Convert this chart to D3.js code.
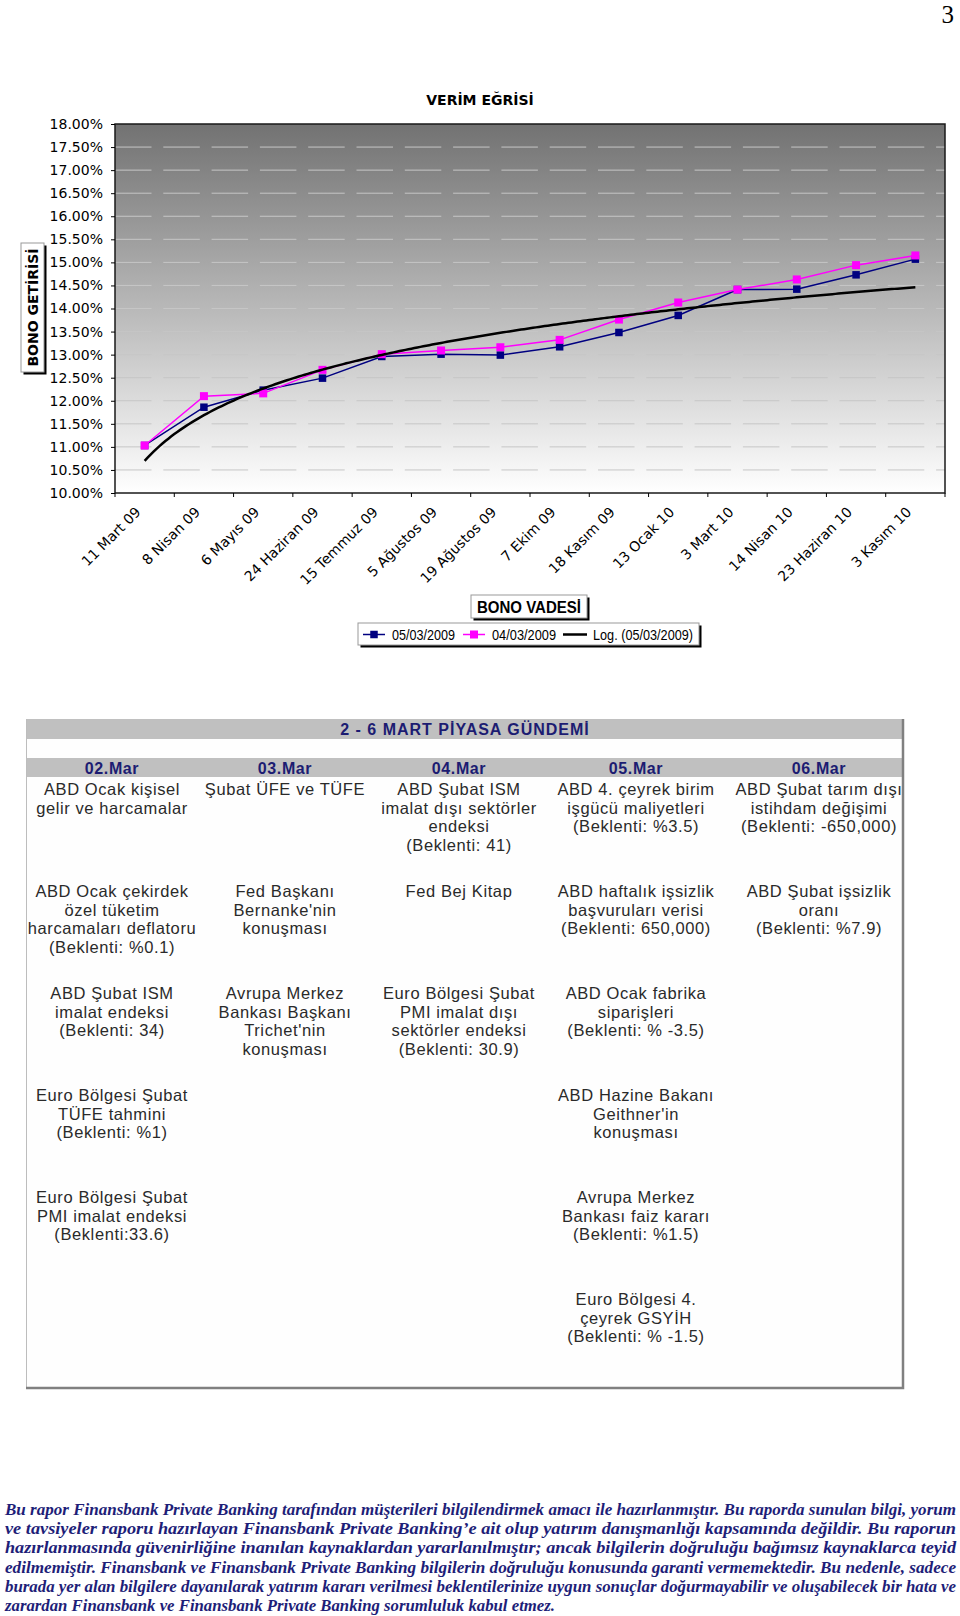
<!DOCTYPE html>
<html>
<head>
<meta charset="utf-8">
<script src="https://cdn.jsdelivr.net/npm/d3@7"></script>
<style>
  body { margin: 0; background: #fff; }
  svg { display: block; }
</style>
</head>
<body>
<div id="page"></div>
<script>
// bond maturities (x categories)
const maturities = ['11 Mart 09', '8 Nisan 09', '6 Mayıs 09', '24 Haziran 09', '15 Temmuz 09',
  '5 Ağustos 09', '19 Ağustos 09', '7 Ekim 09', '18 Kasım 09', '13 Ocak 10',
  '3 Mart 10', '14 Nisan 10', '23 Haziran 10', '3 Kasım 10'];

// yields in %
const yield0503 = [11.03, 11.86, 12.23, 12.49, 12.96, 13.01, 12.99, 13.17, 13.48, 13.85, 14.41, 14.42, 14.73, 15.07];
const yield0403 = [11.03, 12.10, 12.16, 12.67, 13.01, 13.09, 13.16, 13.32, 13.76, 14.13, 14.41, 14.63, 14.94, 15.15];

const yTicks = [10, 10.5, 11, 11.5, 12, 12.5, 13, 13.5, 14, 14.5, 15, 15.5, 16, 16.5, 17, 17.5, 18];
const legendLabels = ['05/03/2009', '04/03/2009', 'Log. (05/03/2009)'];

// weekly agenda
const agendaTitle = '2 - 6 MART PİYASA GÜNDEMİ';
const agendaDays = ['02.Mar', '03.Mar', '04.Mar', '05.Mar', '06.Mar'];
const agendaRows = [
  [['ABD Ocak kişisel', 'gelir ve harcamalar'], ['Şubat ÜFE ve TÜFE'], ['ABD Şubat ISM', 'imalat dışı sektörler', 'endeksi', '(Beklenti: 41)'], ['ABD 4. çeyrek birim', 'işgücü maliyetleri', '(Beklenti: %3.5)'], ['ABD Şubat tarım dışı', 'istihdam değişimi', '(Beklenti: -650,000)']],
  [['ABD Ocak çekirdek', 'özel tüketim', 'harcamaları deflatoru', '(Beklenti: %0.1)'], ['Fed Başkanı', "Bernanke'nin", 'konuşması'], ['Fed Bej Kitap'], ['ABD haftalık işsizlik', 'başvuruları verisi', '(Beklenti: 650,000)'], ['ABD Şubat işsizlik', 'oranı', '(Beklenti: %7.9)']],
  [['ABD Şubat ISM', 'imalat endeksi', '(Beklenti: 34)'], ['Avrupa Merkez', 'Bankası Başkanı', "Trichet'nin", 'konuşması'], ['Euro Bölgesi Şubat', 'PMI imalat dışı', 'sektörler endeksi', '(Beklenti: 30.9)'], ['ABD Ocak fabrika', 'siparişleri', '(Beklenti: % -3.5)'], []],
  [['Euro Bölgesi Şubat', 'TÜFE tahmini', '(Beklenti: %1)'], [], [], ['ABD Hazine Bakanı', "Geithner'in", 'konuşması'], []],
  [['Euro Bölgesi Şubat', 'PMI imalat endeksi', '(Beklenti:33.6)'], [], [], ['Avrupa Merkez', 'Bankası faiz kararı', '(Beklenti: %1.5)'], []],
  [[], [], [], ['Euro Bölgesi 4.', 'çeyrek GSYİH', '(Beklenti: % -1.5)'], []]
];

const disclaimerLines = [
  'Bu rapor Finansbank Private Banking tarafından müşterileri bilgilendirmek amacı ile hazırlanmıştır. Bu raporda sunulan bilgi, yorum',
  've tavsiyeler raporu hazırlayan Finansbank Private Banking’e ait olup yatırım danışmanlığı kapsamında değildir. Bu raporun',
  'hazırlanmasında güvenirliğine inanılan kaynaklardan yararlanılmıştır; ancak bilgilerin doğruluğu bağımsız kaynaklarca teyid',
  'edilmemiştir. Finansbank ve Finansbank Private Banking bilgilerin doğruluğu konusunda garanti vermemektedir. Bu nedenle, sadece',
  'burada yer alan bilgilere dayanılarak yatırım kararı verilmesi beklentilerinize uygun sonuçlar doğurmayabilir ve oluşabilecek bir hata ve',
  'zarardan Finansbank ve Finansbank Private Banking sorumluluk kabul etmez.'
];

const W = 960, H = 1616;
const verdana = 'DejaVu Sans, Verdana, sans-serif';
const arial = 'Liberation Sans, Arial, sans-serif';

const svg = d3.select('#page').append('svg')
  .attr('width', W).attr('height', H)
  .style('font-family', verdana);

// page number
svg.append('text').attr('x', 954).attr('y', 23).attr('text-anchor', 'end')
  .style('font-family', 'Liberation Serif, Times New Roman, serif').style('font-size', '25px')
  .text('3');

// ---------- yield curve ----------
const plot = { left: 115, right: 945, top: 124, bottom: 493 };
const x = d3.scaleBand().domain(maturities).range([plot.left, plot.right]);
const y = d3.scaleLinear().domain([10, 18]).range([plot.bottom, plot.top]);
const cx = d => x(d) + x.bandwidth() / 2;

const grad = svg.append('defs').append('linearGradient')
  .attr('id', 'bg').attr('x1', 0).attr('y1', 0).attr('x2', 0).attr('y2', 1);
grad.append('stop').attr('offset', 0).attr('stop-color', '#727272');
grad.append('stop').attr('offset', 1).attr('stop-color', '#ffffff');

svg.append('rect')
  .attr('x', plot.left).attr('y', plot.top)
  .attr('width', plot.right - plot.left).attr('height', plot.bottom - plot.top)
  .attr('fill', 'url(#bg)');

// dashed gridlines
svg.append('g').selectAll('line')
  .data(yTicks.slice(1, -1))
  .join('line')
  .attr('x1', plot.left).attr('x2', plot.right)
  .attr('y1', d => y(d)).attr('y2', d => y(d))
  .attr('stroke', '#c6c6c6').attr('stroke-width', 1)
  .attr('stroke-dasharray', '36.5,11.8');

svg.append('rect')
  .attr('x', plot.left).attr('y', plot.top)
  .attr('width', plot.right - plot.left).attr('height', plot.bottom - plot.top)
  .attr('fill', 'none').attr('stroke', '#1a1a1a').attr('stroke-width', 1.5);

// y axis
const yAxis = svg.append('g')
  .attr('transform', `translate(${plot.left},0)`)
  .call(d3.axisLeft(y).tickValues(yTicks).tickFormat(d => d.toFixed(2) + '%').tickSize(4).tickPadding(8));
yAxis.select('.domain').remove();
yAxis.selectAll('text').style('font-family', verdana).style('font-size', '14px').attr('fill', '#000');
yAxis.selectAll('line').attr('stroke', '#000');

// x axis ticks at category edges
svg.append('g').selectAll('line')
  .data(maturities.concat(['end']))
  .join('line')
  .attr('x1', (d, i) => i < maturities.length ? x(d) : plot.right)
  .attr('x2', (d, i) => i < maturities.length ? x(d) : plot.right)
  .attr('y1', plot.bottom).attr('y2', plot.bottom + 4)
  .attr('stroke', '#000');

svg.append('g').selectAll('text')
  .data(maturities)
  .join('text')
  .attr('transform', d => `translate(${cx(d) - 3},${plot.bottom + 20}) rotate(-45)`)
  .attr('text-anchor', 'end')
  .style('font-size', '14px')
  .text(d => d);

// series lines and markers
const line = d3.line().x((v, i) => cx(maturities[i])).y(v => y(v));
const seriesList = [
  { values: yield0503, color: '#000080', size: 7.5 },
  { values: yield0403, color: '#ff00ff', size: 8 }
];
seriesList.forEach(s => {
  svg.append('path').datum(s.values)
    .attr('d', line).attr('fill', 'none')
    .attr('stroke', s.color).attr('stroke-width', 1.5);
  svg.append('g').selectAll('rect')
    .data(s.values)
    .join('rect')
    .attr('x', (v, i) => cx(maturities[i]) - s.size / 2)
    .attr('y', v => y(v) - s.size / 2)
    .attr('width', s.size).attr('height', s.size)
    .attr('fill', s.color);
});

// logarithmic trendline fitted on 05/03/2009
const lx = yield0503.map((v, i) => Math.log(i + 1));
const mx = d3.mean(lx), my = d3.mean(yield0503);
const slope = d3.sum(lx, (v, i) => (v - mx) * (yield0503[i] - my)) / d3.sum(lx, v => (v - mx) * (v - mx));
const icpt = my - slope * mx;
const xi = d3.scaleLinear().domain([1, maturities.length])
  .range([cx(maturities[0]), cx(maturities[maturities.length - 1])]);
const trend = d3.range(1, maturities.length + 0.001, 0.05);
svg.append('path').datum(trend)
  .attr('d', d3.line().x(t => xi(t)).y(t => y(icpt + slope * Math.log(t))))
  .attr('fill', 'none').attr('stroke', '#000').attr('stroke-width', 2.5);

// title
svg.append('text').attr('x', 480).attr('y', 105).attr('text-anchor', 'middle')
  .style('font-weight', 'bold').style('font-size', '14px')
  .text('VERİM EĞRİSİ');

// boxed labels with shadow
function shadowBox(bx, by, bw, bh) {
  svg.append('rect').attr('x', bx + 2.5).attr('y', by + 2.5).attr('width', bw).attr('height', bh).attr('fill', '#000');
  svg.append('rect').attr('x', bx).attr('y', by).attr('width', bw).attr('height', bh)
    .attr('fill', '#fff').attr('stroke', '#999').attr('stroke-width', 1);
}

shadowBox(21, 243, 23, 129);
svg.append('text')
  .attr('transform', 'translate(38,307.5) rotate(-90)')
  .attr('text-anchor', 'middle')
  .style('font-weight', 'bold').style('font-size', '14px')
  .text('BONO GETİRİSİ');

shadowBox(471, 595, 116, 23);
svg.append('text').attr('x', 477).attr('y', 612.5)
  .attr('textLength', 104).attr('lengthAdjust', 'spacingAndGlyphs')
  .style('font-family', arial).style('font-weight', 'bold').style('font-size', '16px')
  .text('BONO VADESİ');

// legend
shadowBox(358, 623, 341, 22);
const legendX = [363, 463, 563];
const legendW = [63, 64, 100];
const legendY = 634.5;
const legend = svg.append('g');
legendLabels.forEach((lab, i) => {
  const lx0 = legendX[i];
  if (i < 2) {
    const s = seriesList[i];
    legend.append('line').attr('x1', lx0).attr('x2', lx0 + 22).attr('y1', legendY).attr('y2', legendY)
      .attr('stroke', s.color).attr('stroke-width', 1.5);
    legend.append('rect').attr('x', lx0 + 11 - s.size / 2).attr('y', legendY - s.size / 2)
      .attr('width', s.size).attr('height', s.size).attr('fill', s.color);
  } else {
    legend.append('line').attr('x1', lx0).attr('x2', lx0 + 24).attr('y1', legendY).attr('y2', legendY)
      .attr('stroke', '#000').attr('stroke-width', 2.5);
  }
  legend.append('text').attr('x', lx0 + (i < 2 ? 29 : 30)).attr('y', legendY + 5)
    .attr('textLength', legendW[i]).attr('lengthAdjust', 'spacingAndGlyphs')
    .style('font-family', arial).style('font-size', '14.5px')
    .text(lab);
});

// ---------- market agenda ----------
const tbl = { left: 26, right: 903, top: 719, bottom: 1388 };
const colCenters = [112, 285, 459, 636, 819];
const rowTops = [789, 891, 993, 1095, 1197, 1299];
const lineGap = 18.6;
const navy = '#1c1c72';

svg.append('rect').attr('x', tbl.left).attr('y', tbl.top)
  .attr('width', tbl.right - tbl.left).attr('height', tbl.bottom - tbl.top)
  .attr('fill', '#fefefe');
svg.append('rect').attr('x', tbl.left).attr('y', tbl.top)
  .attr('width', tbl.right - tbl.left).attr('height', 20).attr('fill', '#c0c0c0');
svg.append('rect').attr('x', tbl.left).attr('y', 758)
  .attr('width', tbl.right - tbl.left).attr('height', 19).attr('fill', '#c0c0c0');
svg.append('line').attr('x1', tbl.left + 0.5).attr('x2', tbl.left + 0.5).attr('y1', tbl.top).attr('y2', tbl.bottom)
  .attr('stroke', '#bdbdbd').attr('stroke-width', 1);
svg.append('polyline')
  .attr('points', `${tbl.left},${tbl.bottom} ${tbl.right},${tbl.bottom} ${tbl.right},${tbl.top}`)
  .attr('fill', 'none').attr('stroke', '#808080').attr('stroke-width', 2.5);

svg.append('text').attr('x', 465).attr('y', 735).attr('text-anchor', 'middle')
  .style('font-family', arial).style('font-weight', 'bold').style('font-size', '16px')
  .style('letter-spacing', '1px').attr('fill', navy)
  .text(agendaTitle);

svg.append('g').selectAll('text')
  .data(agendaDays)
  .join('text')
  .attr('x', (d, i) => colCenters[i]).attr('y', 774)
  .attr('text-anchor', 'middle')
  .style('font-family', arial).style('font-weight', 'bold').style('font-size', '16px')
  .style('letter-spacing', '0.6px').attr('fill', navy)
  .text(d => d);

const cells = [];
agendaRows.forEach((row, r) => row.forEach((lines, c) => {
  lines.forEach((t, k) => cells.push({ t, x: colCenters[c], y: rowTops[r] + 6 + k * lineGap }));
}));
svg.append('g').selectAll('text')
  .data(cells)
  .join('text')
  .attr('x', d => d.x).attr('y', d => d.y)
  .attr('text-anchor', 'middle')
  .style('font-family', arial).style('font-size', '16.5px').style('letter-spacing', '0.6px')
  .attr('fill', '#2a2a2a')
  .text(d => d.t);

// ---------- disclaimer ----------
const disc = svg.append('g')
  .style('font-family', 'Liberation Serif, Times New Roman, serif')
  .style('font-weight', 'bold').style('font-style', 'italic').style('font-size', '16.5px')
  .attr('fill', '#1e1e78');
disclaimerLines.forEach((t, i) => {
  const el = disc.append('text').attr('x', 5).attr('y', 1515 + i * 19.2).text(t);
  if (i < disclaimerLines.length - 1) {
    el.attr('textLength', 951).attr('lengthAdjust', 'spacingAndGlyphs');
  } else {
    el.attr('textLength', 550).attr('lengthAdjust', 'spacingAndGlyphs');
  }
});
</script>
</body>
</html>
